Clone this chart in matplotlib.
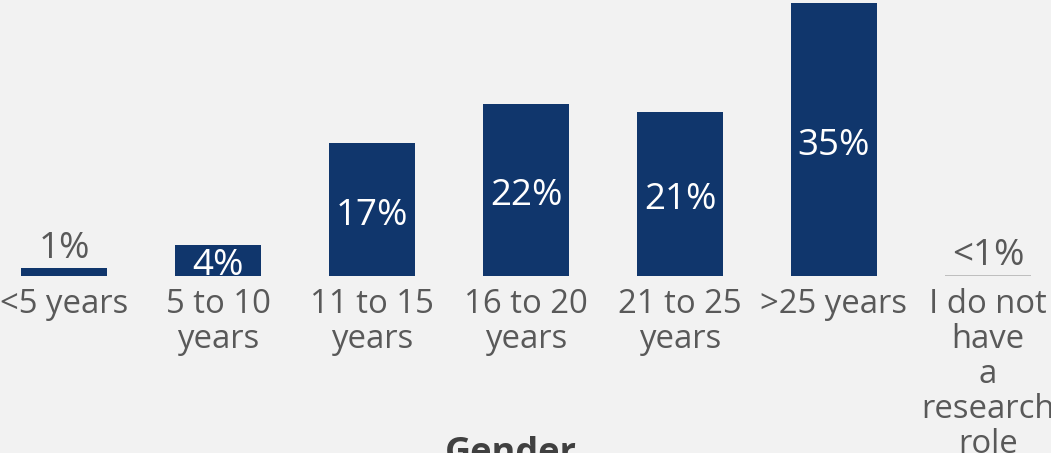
import matplotlib.pyplot as plt

# Years in research, share of respondents
categories = ['<5 years', '5 to 10\nyears', '11 to 15\nyears', '16 to 20\nyears',
              '21 to 25\nyears', '>25 years', 'I do not\nhave\na\nresearch\nrole']
values = [1, 4, 17, 22, 21, 35, 0.1]
value_labels = ['1%', '4%', '17%', '22%', '21%', '35%', '<1%']

NAVY = '#10366c'
GREY_TXT = '#595959'
BG = '#f2f2f2'

plt.rcParams['font.family'] = ['Open Sans', 'DejaVu Sans']

fig = plt.figure(figsize=(10.51, 4.53), dpi=100, facecolor=BG)
ax = fig.add_axes([0, 0, 1, 1], facecolor=BG)

x = list(range(len(categories)))
colors = [NAVY] * 6 + ['#bfbfbf']
ax.bar(x, values, width=0.558, color=colors)

for xi, v, lab in zip(x, values, value_labels):
    if v < 3:
        ax.text(xi, v + 3.0, lab, ha='center', va='center_baseline', fontsize=26.5, color=GREY_TXT)
    else:
        ax.text(xi, v / 2 - 0.2, lab, ha='center', va='center_baseline', fontsize=26.5, color='white')

ax.set_xlim(-64 / 154, (1051 - 64) / 154)
ax.set_ylim(-177 / 7.8, 276 / 7.8)

for i, c in enumerate(categories):
    ax.text(i, -1.6, c, ha='center', va='top', fontsize=23.7, color=GREY_TXT, linespacing=1.08)

for s in ax.spines.values():
    s.set_visible(False)
ax.set_xticks([])
ax.set_yticks([])

fig.text(0.486, -0.022, 'Gender', ha='center', va='baseline', fontsize=26,
         fontweight='bold', color='#404040')

fig.savefig('out.png', dpi=100, facecolor=BG)
